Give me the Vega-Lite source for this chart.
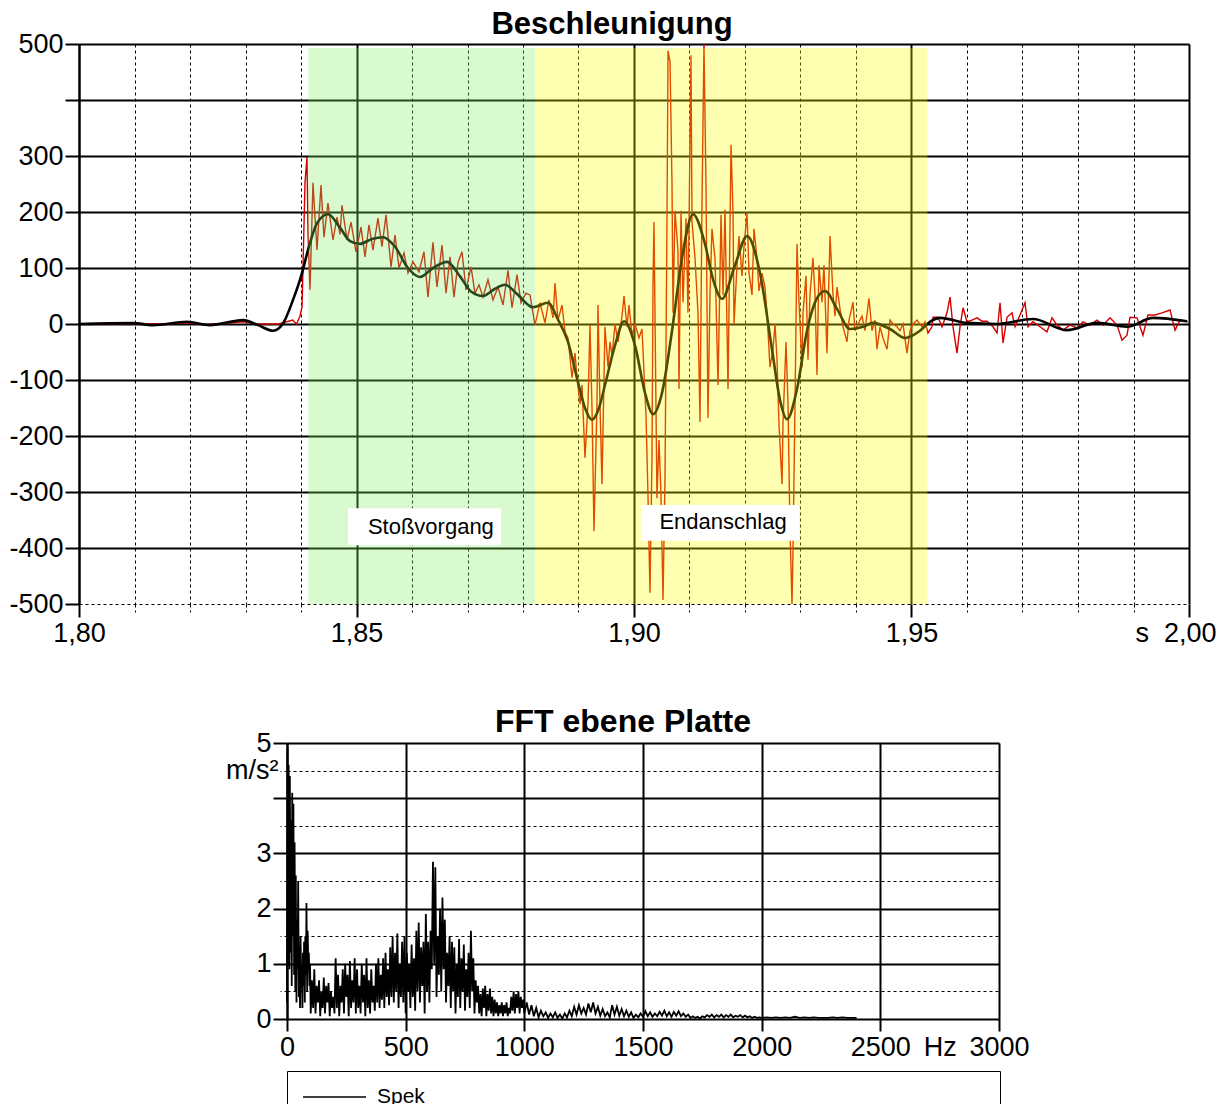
{
"$schema": "https://vega.github.io/schema/vega-lite/v6.json",
"padding": {"left": 8, "top": 9, "right": 5, "bottom": 5},
"background": "white",
"spacing": 60,
"config": {
  "font": "Liberation Sans",
  "view": {"stroke": null},
  "axis": {"labelFont": "Liberation Sans", "labelFontSize": 27, "labelColor": "black", "tickColor": "black", "domainColor": "black", "gridColor": "black", "gridOpacity": 1, "labelOverlap": false, "labelFlush": false, "labelBound": false, "title": null},
  "title": {"font": "Liberation Sans", "fontSize": 31, "fontWeight": "bold", "color": "black"}
},
"datasets": {
  "raw": [
    {"t":1.8,"a":0},{"t":1.805,"a":0},{"t":1.81,"a":1},{"t":1.815,"a":0},{"t":1.819,"a":2},{"t":1.823,"a":-1},{"t":1.826,"a":1},{"t":1.8295,"a":4},{"t":1.832,"a":0},{"t":1.836,"a":0},{"t":1.8385,"a":7},{"t":1.8392,"a":0},{"t":1.8398,"a":14},{"t":1.84018,"a":30},{"t":1.84036,"a":102},{"t":1.84072,"a":252},{"t":1.84108,"a":298},{"t":1.84126,"a":162},{"t":1.84162,"a":61},{"t":1.84216,"a":252},{"t":1.84288,"a":132},{"t":1.8436,"a":248},{"t":1.84414,"a":155},{"t":1.84486,"a":216},{"t":1.84577,"a":150},{"t":1.84649,"a":191},{"t":1.84703,"a":160},{"t":1.84739,"a":212},{"t":1.84829,"a":150},{"t":1.84901,"a":182},{"t":1.84991,"a":129},{"t":1.85081,"a":173},{"t":1.85153,"a":120},{"t":1.85225,"a":177},{"t":1.85297,"a":132},{"t":1.85387,"a":189},{"t":1.85459,"a":138},{"t":1.85532,"a":195},{"t":1.85622,"a":102},{"t":1.85694,"a":159},{"t":1.85766,"a":100},{"t":1.85856,"a":127},{"t":1.85928,"a":91},{"t":1.86018,"a":111},{"t":1.86126,"a":93},{"t":1.86216,"a":129},{"t":1.86288,"a":48},{"t":1.86378,"a":146},{"t":1.8645,"a":66},{"t":1.86541,"a":141},{"t":1.86613,"a":55},{"t":1.86685,"a":120},{"t":1.86757,"a":48},{"t":1.86829,"a":110},{"t":1.86901,"a":129},{"t":1.86973,"a":61},{"t":1.87063,"a":102},{"t":1.87135,"a":55},{"t":1.87207,"a":70},{"t":1.87279,"a":48},{"t":1.87369,"a":79},{"t":1.87459,"a":43},{"t":1.8755,"a":66},{"t":1.8764,"a":34},{"t":1.8773,"a":96},{"t":1.87802,"a":29},{"t":1.87892,"a":88},{"t":1.87964,"a":38},{"t":1.88054,"a":55},{"t":1.88126,"a":52},{"t":1.88216,"a":-2},{"t":1.88306,"a":38},{"t":1.88396,"a":2},{"t":1.88468,"a":43},{"t":1.88541,"a":11},{"t":1.88577,"a":73},{"t":1.88631,"a":7},{"t":1.88703,"a":34},{"t":1.88757,"a":-14},{"t":1.88811,"a":-25},{"t":1.88883,"a":-96},{"t":1.88937,"a":-52},{"t":1.88973,"a":-96},{"t":1.89027,"a":-143},{"t":1.89063,"a":-109},{"t":1.89117,"a":-239},{"t":1.89171,"a":-143},{"t":1.89207,"a":-2},{"t":1.89243,"a":-148},{"t":1.89279,"a":-370},{"t":1.89333,"a":-143},{"t":1.89351,"a":34},{"t":1.89387,"a":-143},{"t":1.89423,"a":-286},{"t":1.89477,"a":-5},{"t":1.89532,"a":-77},{"t":1.89568,"a":-32},{"t":1.89604,"a":-57},{"t":1.89658,"a":0},{"t":1.89712,"a":-32},{"t":1.89784,"a":14},{"t":1.8982,"a":50},{"t":1.89874,"a":-5},{"t":1.8991,"a":34},{"t":1.89964,"a":-21},{"t":1.90018,"a":0},{"t":1.9009,"a":-25},{"t":1.90144,"a":-9},{"t":1.90216,"a":-162},{"t":1.90252,"a":-305},{"t":1.90288,"a":-480},{"t":1.90324,"a":-239},{"t":1.90342,"a":66},{"t":1.9036,"a":182},{"t":1.90414,"a":-311},{"t":1.9045,"a":-207},{"t":1.90486,"a":-305},{"t":1.90523,"a":-493},{"t":1.90559,"a":-271},{"t":1.90595,"a":195},{"t":1.90613,"a":488},{"t":1.90649,"a":468},{"t":1.90685,"a":248},{"t":1.90703,"a":20},{"t":1.90739,"a":202},{"t":1.90793,"a":130},{"t":1.90811,"a":-116},{"t":1.90847,"a":202},{"t":1.90883,"a":39},{"t":1.90937,"a":189},{"t":1.90973,"a":20},{"t":1.91027,"a":480},{"t":1.91045,"a":182},{"t":1.91099,"a":118},{"t":1.91153,"a":20},{"t":1.91189,"a":-175},{"t":1.91225,"a":214},{"t":1.91261,"a":500},{"t":1.91297,"a":248},{"t":1.91333,"a":-168},{"t":1.91369,"a":52},{"t":1.91405,"a":170},{"t":1.91459,"a":118},{"t":1.91514,"a":-109},{"t":1.91568,"a":195},{"t":1.91604,"a":52},{"t":1.9164,"a":204},{"t":1.91694,"a":-116},{"t":1.91748,"a":320},{"t":1.91784,"a":200},{"t":1.91802,"a":0},{"t":1.91856,"a":105},{"t":1.91892,"a":157},{"t":1.91946,"a":86},{"t":1.91982,"a":138},{"t":1.92036,"a":198},{"t":1.92072,"a":91},{"t":1.92126,"a":52},{"t":1.92162,"a":170},{"t":1.92216,"a":118},{"t":1.92252,"a":59},{"t":1.92306,"a":91},{"t":1.9236,"a":66},{"t":1.92396,"a":20},{"t":1.9245,"a":-77},{"t":1.92504,"a":-45},{"t":1.92541,"a":0},{"t":1.92577,"a":-64},{"t":1.92613,"a":-180},{"t":1.92667,"a":-286},{"t":1.92685,"a":-175},{"t":1.92739,"a":-32},{"t":1.92775,"a":-143},{"t":1.92811,"a":-370},{"t":1.92847,"a":-500},{"t":1.92865,"a":-402},{"t":1.92901,"a":-143},{"t":1.92937,"a":143},{"t":1.92973,"a":39},{"t":1.93027,"a":-77},{"t":1.93045,"a":20},{"t":1.93099,"a":86},{"t":1.93135,"a":-64},{"t":1.93171,"a":52},{"t":1.93225,"a":118},{"t":1.93261,"a":52},{"t":1.93297,"a":-91},{"t":1.93333,"a":105},{"t":1.93387,"a":39},{"t":1.93423,"a":105},{"t":1.93477,"a":-52},{"t":1.93532,"a":157},{"t":1.93586,"a":52},{"t":1.93622,"a":14},{"t":1.93658,"a":66},{"t":1.93712,"a":27},{"t":1.93766,"a":-5},{"t":1.93838,"a":-32},{"t":1.93874,"a":7},{"t":1.93946,"a":39},{"t":1.93982,"a":-12},{"t":1.94036,"a":0},{"t":1.94108,"a":14},{"t":1.94162,"a":-12},{"t":1.94234,"a":46},{"t":1.94288,"a":-12},{"t":1.94342,"a":7},{"t":1.94378,"a":-45},{"t":1.94432,"a":-5},{"t":1.94486,"a":-25},{"t":1.94559,"a":-45},{"t":1.94613,"a":7},{"t":1.94667,"a":0},{"t":1.94739,"a":-5},{"t":1.94793,"a":-12},{"t":1.94847,"a":0},{"t":1.94919,"a":-52},{"t":1.94974,"a":-12},{"t":1.95027,"a":0},{"t":1.95099,"a":7},{"t":1.95189,"a":-5},{"t":1.95243,"a":4},{"t":1.95297,"a":-16},{"t":1.95369,"a":-5},{"t":1.95387,"a":12},{"t":1.95477,"a":12},{"t":1.9555,"a":-5},{"t":1.9564,"a":20},{"t":1.95694,"a":48},{"t":1.95748,"a":-5},{"t":1.9582,"a":-52},{"t":1.95874,"a":-5},{"t":1.95928,"a":29},{"t":1.96,"a":4},{"t":1.9609,"a":7},{"t":1.9618,"a":11},{"t":1.9627,"a":5},{"t":1.9636,"a":5},{"t":1.96468,"a":-5},{"t":1.96541,"a":-16},{"t":1.96595,"a":38},{"t":1.96649,"a":-34},{"t":1.96721,"a":12},{"t":1.96811,"a":20},{"t":1.96865,"a":-5},{"t":1.96955,"a":16},{"t":1.97045,"a":38},{"t":1.97099,"a":-5},{"t":1.97189,"a":4},{"t":1.97315,"a":-5},{"t":1.97441,"a":-14},{"t":1.97532,"a":11},{"t":1.97622,"a":-2},{"t":1.9773,"a":-11},{"t":1.97856,"a":-2},{"t":1.97982,"a":-7},{"t":1.9809,"a":4},{"t":1.98216,"a":-2},{"t":1.98342,"a":7},{"t":1.9845,"a":-2},{"t":1.98577,"a":11},{"t":1.98703,"a":-2},{"t":1.98793,"a":-29},{"t":1.98883,"a":-20},{"t":1.98937,"a":12},{"t":1.99063,"a":11},{"t":1.99171,"a":-20},{"t":1.99261,"a":16},{"t":1.99387,"a":16},{"t":1.99514,"a":20},{"t":1.99658,"a":25},{"t":1.99748,"a":-11},{"t":1.99838,"a":7},{"t":1.99982,"a":4}
  ],
  "smooth": [
    {"t":1.8,"a":0},{"t":1.80973,"a":1.5},{"t":1.81333,"a":-2},{"t":1.81946,"a":4},{"t":1.8236,"a":-2},{"t":1.82955,"a":7},{"t":1.83225,"a":-2},{"t":1.83495,"a":-12},{"t":1.83676,"a":1},{"t":1.83856,"a":43},{"t":1.84018,"a":91},{"t":1.84126,"a":132},{"t":1.84288,"a":180},{"t":1.84486,"a":196},{"t":1.84703,"a":172},{"t":1.84883,"a":148},{"t":1.85063,"a":143},{"t":1.85279,"a":152},{"t":1.85477,"a":155},{"t":1.85694,"a":138},{"t":1.85928,"a":100},{"t":1.86144,"a":84},{"t":1.86378,"a":100},{"t":1.86631,"a":111},{"t":1.86865,"a":85},{"t":1.87063,"a":58},{"t":1.87279,"a":50},{"t":1.87495,"a":63},{"t":1.87676,"a":70},{"t":1.8791,"a":52},{"t":1.8818,"a":30},{"t":1.8845,"a":38},{"t":1.8863,"a":8},{"t":1.88811,"a":-32},{"t":1.88991,"a":-104},{"t":1.89117,"a":-150},{"t":1.89243,"a":-171},{"t":1.89369,"a":-150},{"t":1.89477,"a":-109},{"t":1.89658,"a":-38},{"t":1.8982,"a":5},{"t":1.90018,"a":-38},{"t":1.90198,"a":-123},{"t":1.90342,"a":-161},{"t":1.90505,"a":-123},{"t":1.90685,"a":-12},{"t":1.90865,"a":118},{"t":1.91063,"a":196},{"t":1.91279,"a":143},{"t":1.91423,"a":80},{"t":1.91586,"a":45},{"t":1.9182,"a":105},{"t":1.92036,"a":157},{"t":1.9227,"a":91},{"t":1.92486,"a":-45},{"t":1.92631,"a":-136},{"t":1.92757,"a":-170},{"t":1.92937,"a":-116},{"t":1.93117,"a":-12},{"t":1.93297,"a":46},{"t":1.93441,"a":59},{"t":1.93658,"a":27},{"t":1.93892,"a":-9},{"t":1.94126,"a":-5},{"t":1.94306,"a":2},{"t":1.94613,"a":-9},{"t":1.94883,"a":-25},{"t":1.95153,"a":-12},{"t":1.95333,"a":4},{"t":1.95514,"a":11},{"t":1.96,"a":2},{"t":1.96541,"a":0},{"t":1.97189,"a":9},{"t":1.97802,"a":-11},{"t":1.98342,"a":2},{"t":1.98883,"a":-5},{"t":1.99351,"a":11},{"t":1.99964,"a":5}
  ],
  "regions": [
    {"name":"Stoßvorgang","start":1.84132,"end":1.88216,"lt":1.8634,"la":-362,"bx1":1.84847,"bx2":1.87604,"by1":-329,"by2":-395},
    {"name":"Endanschlag","start":1.88216,"end":1.95285,"lt":1.91604,"la":-354,"bx1":1.90126,"bx2":1.92973,"by1":-323,"by2":-387}
  ],
  "fft": [
    {"f":0,"v":0.3},{"f":2,"v":4.9},{"f":5,"v":1.0},{"f":7,"v":4.6},{"f":10,"v":0.9},{"f":12,"v":4.4},{"f":15,"v":1.2},{"f":17,"v":3.6},{"f":20,"v":0.6},{"f":22,"v":4.1},{"f":25,"v":1.5},{"f":27,"v":3.9},{"f":30,"v":0.8},{"f":32,"v":3.2},{"f":35,"v":0.5},{"f":37,"v":2.6},{"f":40,"v":0.3},{"f":42,"v":1.8},{"f":45,"v":0.9},{"f":47,"v":2.5},{"f":50,"v":0.4},{"f":52,"v":1.3},{"f":55,"v":0.2},{"f":57,"v":1.5},{"f":60,"v":0.6},{"f":62,"v":0.9},{"f":65,"v":0.2},{"f":67,"v":1.2},{"f":70,"v":0.6},{"f":72,"v":1.4},{"f":75,"v":0.3},{"f":77,"v":1.5},{"f":80,"v":0.8},{"f":82,"v":2.1},{"f":85,"v":0.5},{"f":87,"v":1.6},{"f":90,"v":0.9},{"f":92,"v":1.2},{"f":95,"v":0.6},{"f":97,"v":1.0},
    {"f":100,"v":0.1},{"f":105,"v":0.7},{"f":110,"v":0.2},{"f":115,"v":0.9},{"f":120,"v":0.1},{"f":125,"v":0.6},{"f":130,"v":0.3},{"f":135,"v":0.7},{"f":140,"v":0.05},{"f":145,"v":0.5},{"f":150,"v":0.2},{"f":155,"v":0.75},{"f":160,"v":0.1},{"f":165,"v":0.6},{"f":170,"v":0.3},{"f":175,"v":0.65},{"f":180,"v":0.05},{"f":185,"v":0.5},{"f":190,"v":0.2},{"f":195,"v":0.4},{"f":200,"v":0.1},
    {"f":205,"v":1.1},{"f":210,"v":0.2},{"f":215,"v":0.8},{"f":220,"v":0.05},{"f":225,"v":0.6},{"f":230,"v":0.3},{"f":235,"v":0.9},{"f":240,"v":0.1},{"f":245,"v":1.0},{"f":250,"v":0.4},{"f":255,"v":0.8},{"f":260,"v":0.05},{"f":265,"v":1.05},{"f":270,"v":0.2},{"f":275,"v":0.7},{"f":280,"v":0.3},{"f":285,"v":1.1},{"f":290,"v":0.1},{"f":295,"v":0.9},{"f":300,"v":0.2},{"f":305,"v":0.6},{"f":310,"v":0.1},{"f":315,"v":1.0},{"f":320,"v":0.3},{"f":325,"v":0.8},{"f":330,"v":0.05},{"f":335,"v":1.1},{"f":340,"v":0.2},{"f":345,"v":0.7},{"f":350,"v":0.1},{"f":355,"v":0.9},{"f":360,"v":0.3},{"f":365,"v":0.6},{"f":370,"v":0.15},{"f":375,"v":1.0},{"f":380,"v":0.3},{"f":385,"v":1.1},{"f":390,"v":0.2},{"f":395,"v":0.8},{"f":400,"v":0.35},
    {"f":405,"v":1.1},{"f":410,"v":0.2},{"f":415,"v":1.2},{"f":420,"v":0.4},{"f":425,"v":0.9},{"f":430,"v":0.25},{"f":435,"v":1.3},{"f":440,"v":0.4},{"f":445,"v":1.5},{"f":450,"v":0.3},{"f":455,"v":1.2},{"f":460,"v":0.5},{"f":465,"v":1.55},{"f":470,"v":0.2},{"f":475,"v":1.0},{"f":480,"v":0.4},{"f":485,"v":1.4},{"f":490,"v":0.3},{"f":495,"v":1.5},{"f":500,"v":0.1},{"f":505,"v":1.2},{"f":510,"v":0.5},{"f":515,"v":1.0},{"f":520,"v":0.2},{"f":525,"v":1.35},{"f":530,"v":0.4},{"f":535,"v":1.1},{"f":540,"v":0.15},{"f":545,"v":1.6},{"f":550,"v":0.5},{"f":555,"v":1.75},{"f":560,"v":0.3},{"f":565,"v":1.3},{"f":570,"v":0.6},{"f":575,"v":1.4},{"f":580,"v":0.1},{"f":585,"v":1.9},{"f":590,"v":0.5},{"f":595,"v":1.4},{"f":600,"v":0.3},
    {"f":605,"v":1.6},{"f":610,"v":0.9},{"f":615,"v":2.85},{"f":620,"v":1.0},{"f":625,"v":2.75},{"f":630,"v":0.4},{"f":635,"v":1.5},{"f":640,"v":0.8},{"f":645,"v":2.0},{"f":650,"v":0.5},{"f":655,"v":2.2},{"f":660,"v":0.9},{"f":665,"v":1.8},{"f":670,"v":0.3},{"f":675,"v":1.2},{"f":680,"v":0.6},{"f":685,"v":1.5},{"f":690,"v":0.2},{"f":695,"v":1.4},{"f":700,"v":0.5},{"f":705,"v":1.3},{"f":710,"v":0.1},{"f":715,"v":1.0},{"f":720,"v":0.4},{"f":725,"v":1.45},{"f":730,"v":0.2},{"f":735,"v":1.1},{"f":740,"v":0.5},{"f":745,"v":1.35},{"f":750,"v":0.15},{"f":755,"v":0.9},{"f":760,"v":0.4},{"f":765,"v":1.2},{"f":770,"v":0.2},{"f":775,"v":1.6},{"f":780,"v":0.5},{"f":785,"v":1.1},{"f":790,"v":0.1},{"f":795,"v":0.7},{"f":800,"v":0.3},
    {"f":805,"v":0.6},{"f":810,"v":0.1},{"f":815,"v":0.45},{"f":820,"v":0.05},{"f":825,"v":0.55},{"f":830,"v":0.2},{"f":835,"v":0.6},{"f":840,"v":0.05},{"f":845,"v":0.45},{"f":850,"v":0.15},{"f":855,"v":0.55},{"f":860,"v":0.1},{"f":865,"v":0.4},{"f":870,"v":0.05},{"f":875,"v":0.35},{"f":880,"v":0.1},{"f":885,"v":0.3},{"f":890,"v":0.05},{"f":895,"v":0.25},{"f":900,"v":0.1},{"f":905,"v":0.3},{"f":910,"v":0.05},{"f":915,"v":0.25},{"f":920,"v":0.1},{"f":925,"v":0.3},{"f":930,"v":0.05},{"f":935,"v":0.2},{"f":940,"v":0.1},{"f":945,"v":0.4},{"f":950,"v":0.15},{"f":955,"v":0.5},{"f":960,"v":0.1},{"f":965,"v":0.45},{"f":970,"v":0.2},{"f":975,"v":0.5},{"f":980,"v":0.1},{"f":985,"v":0.4},{"f":990,"v":0.2},{"f":995,"v":0.35},{"f":1000,"v":0.1},
    {"f":1010,"v":0.3},{"f":1020,"v":0.08},{"f":1030,"v":0.25},{"f":1040,"v":0.05},{"f":1050,"v":0.2},{"f":1060,"v":0.03},{"f":1070,"v":0.15},{"f":1080,"v":0.05},{"f":1090,"v":0.12},{"f":1100,"v":0.02},{"f":1110,"v":0.1},{"f":1120,"v":0.03},{"f":1130,"v":0.12},{"f":1140,"v":0.02},{"f":1150,"v":0.08},{"f":1160,"v":0.01},{"f":1170,"v":0.1},{"f":1180,"v":0.03},{"f":1190,"v":0.15},{"f":1200,"v":0.05},{"f":1210,"v":0.22},{"f":1220,"v":0.08},{"f":1230,"v":0.25},{"f":1240,"v":0.1},{"f":1250,"v":0.2},{"f":1260,"v":0.08},{"f":1270,"v":0.28},{"f":1280,"v":0.12},{"f":1290,"v":0.3},{"f":1300,"v":0.1},{"f":1310,"v":0.22},{"f":1320,"v":0.06},{"f":1330,"v":0.18},{"f":1340,"v":0.05},{"f":1350,"v":0.12},{"f":1360,"v":0.03},{"f":1370,"v":0.25},{"f":1380,"v":0.08},{"f":1390,"v":0.22},{"f":1400,"v":0.06},{"f":1410,"v":0.18},{"f":1420,"v":0.05},{"f":1430,"v":0.15},{"f":1440,"v":0.04},{"f":1450,"v":0.12},{"f":1460,"v":0.02},{"f":1470,"v":0.08},{"f":1480,"v":0.03},{"f":1490,"v":0.1},{"f":1500,"v":0.04},{"f":1510,"v":0.14},{"f":1520,"v":0.05},{"f":1530,"v":0.12},{"f":1540,"v":0.04},{"f":1550,"v":0.1},{"f":1560,"v":0.05},{"f":1570,"v":0.13},{"f":1580,"v":0.06},{"f":1590,"v":0.15},{"f":1600,"v":0.05},{"f":1610,"v":0.12},{"f":1620,"v":0.04},{"f":1630,"v":0.13},{"f":1640,"v":0.06},{"f":1650,"v":0.14},{"f":1660,"v":0.05},{"f":1670,"v":0.1},{"f":1680,"v":0.04},{"f":1690,"v":0.08},{"f":1700,"v":0.02},{"f":1710,"v":0.05},{"f":1720,"v":0.02},{"f":1730,"v":0.04},{"f":1740,"v":0.01},{"f":1750,"v":0.05},{"f":1760,"v":0.03},{"f":1770,"v":0.07},{"f":1780,"v":0.04},{"f":1790,"v":0.08},{"f":1800,"v":0.03},{"f":1810,"v":0.07},{"f":1820,"v":0.04},{"f":1830,"v":0.08},{"f":1840,"v":0.03},{"f":1850,"v":0.07},{"f":1860,"v":0.04},{"f":1870,"v":0.08},{"f":1880,"v":0.03},{"f":1890,"v":0.06},{"f":1900,"v":0.04},{"f":1910,"v":0.07},{"f":1920,"v":0.03},{"f":1930,"v":0.06},{"f":1940,"v":0.03},{"f":1950,"v":0.05},{"f":1960,"v":0.02},{"f":1970,"v":0.04},{"f":1980,"v":0.02},{"f":1990,"v":0.03},{"f":2000,"v":0.02},{"f":2020,"v":0.03},{"f":2040,"v":0.02},{"f":2060,"v":0.03},{"f":2080,"v":0.02},{"f":2100,"v":0.03},{"f":2120,"v":0.02},{"f":2140,"v":0.04},{"f":2160,"v":0.02},{"f":2180,"v":0.03},{"f":2200,"v":0.02},{"f":2220,"v":0.03},{"f":2240,"v":0.02},{"f":2260,"v":0.02},{"f":2280,"v":0.02},{"f":2300,"v":0.03},{"f":2320,"v":0.02},{"f":2340,"v":0.03},{"f":2360,"v":0.02},{"f":2380,"v":0.02},{"f":2400,"v":0.02}
  ]
},
"vconcat": [
  {
    "width": 1110, "height": 560,
    "title": {"text": "Beschleunigung", "offset": -11, "dx": -22},
    "layer": [
      {
        "data": {"name": "raw"},
        "mark": {"type": "line", "stroke": "#d40000", "strokeWidth": 1.4, "clip": true},
        "encoding": {
          "x": {"field": "t", "type": "quantitative", "scale": {"domain": [1.8, 2.0], "nice": false, "zero": false},
            "axis": {
              "values": [1.8,1.81,1.82,1.83,1.84,1.85,1.86,1.87,1.88,1.89,1.9,1.91,1.92,1.93,1.94,1.95,1.96,1.97,1.98,1.99,2.0],
              "domain": false, "grid": true,
              "gridDash": {"condition": {"test": "abs(datum.value*20-round(datum.value*20))<0.001", "value": []}, "value": [3,3]},
              "gridWidth": {"condition": {"test": "abs(datum.value*20-round(datum.value*20))<0.001", "value": 2}, "value": 1},
              "tickDash": {"condition": {"test": "abs(datum.value*20-round(datum.value*20))<0.001", "value": []}, "value": [3,3]},
              "tickSize": {"condition": {"test": "abs(datum.value*20-round(datum.value*20))<0.001", "value": 13}, "value": 8},
              "tickWidth": {"condition": {"test": "abs(datum.value*20-round(datum.value*20))<0.001", "value": 2}, "value": 1},
              "labelExpr": "abs(datum.value*20-round(datum.value*20))<0.001 ? (datum.value > 1.999 ? 's\u00a0\u00a02,00' : replace(format(datum.value,'.2f'),'.',',')) : ''",
              "labelAlign": {"condition": {"test": "datum.value > 1.999", "value": "right"}, "value": "center"},
              "labelOffset": {"condition": {"test": "datum.value > 1.999", "value": 27}, "value": 0},
              "labelPadding": 3
            }},
          "y": {"field": "a", "type": "quantitative", "scale": {"domain": [-500, 500], "nice": false},
            "axis": {
              "values": [-500,-450,-400,-350,-300,-250,-200,-150,-100,-50,0,50,100,150,200,250,300,350,400,450,500],
              "domain": true, "domainWidth": 2, "grid": true,
              "gridDash": {"condition": {"test": "datum.value % 100 == 0 && datum.value != -500", "value": []}, "value": [3,3]},
              "gridWidth": {"condition": {"test": "datum.value % 100 == 0 && datum.value != -500", "value": 2}, "value": 1},
              "tickDash": {"condition": {"test": "datum.value % 100 == 0", "value": []}, "value": [3,3]},
              "tickSize": {"condition": {"test": "datum.value % 100 == 0", "value": 14}, "value": 7},
              "tickWidth": {"condition": {"test": "datum.value % 100 == 0", "value": 2}, "value": 1},
              "labelExpr": "datum.value == 450 ? 'm/s²' : ((datum.value % 100 == 0 && datum.value != 400) ? '' + datum.value : '')",
              "labelPadding": 2
            }}
        }
      },
      {
        "data": {"name": "smooth"},
        "mark": {"type": "line", "stroke": "black", "strokeWidth": 2.6, "interpolate": "monotone", "clip": true},
        "encoding": {
          "x": {"field": "t", "type": "quantitative"},
          "y": {"field": "a", "type": "quantitative"}
        }
      },
      {
        "data": {"name": "regions"},
        "mark": {"type": "rect", "opacity": 0.3},
        "encoding": {
          "x": {"field": "start", "type": "quantitative"},
          "x2": {"field": "end"},
          "y": {"datum": 493, "type": "quantitative"},
          "y2": {"datum": -500},
          "fill": {"field": "name", "type": "nominal", "scale": {"domain": ["Stoßvorgang", "Endanschlag"], "range": ["#80f060", "#ffff00"]}, "legend": null}
        }
      },
      {
        "data": {"name": "regions"},
        "mark": {"type": "rect", "fill": "white"},
        "encoding": {
          "x": {"field": "bx1", "type": "quantitative"},
          "x2": {"field": "bx2"},
          "y": {"field": "by1", "type": "quantitative"},
          "y2": {"field": "by2"}
        }
      },
      {
        "data": {"name": "regions"},
        "mark": {"type": "text", "fontSize": 22, "font": "Liberation Sans", "color": "black", "align": "center", "baseline": "middle"},
        "encoding": {
          "x": {"field": "lt", "type": "quantitative"},
          "y": {"field": "la", "type": "quantitative"},
          "text": {"field": "name"}
        }
      }
    ]
  },
  {
    "spacing": 0,
    "resolve": {"legend": {"stroke": "independent"}},
    "hconcat": [
      {
        "width": 146, "height": 276,
        "view": {"fill": "white", "stroke": null},
        "data": {"values": [{}]},
        "mark": {"type": "point", "opacity": 0},
        "encoding": {}
      },
      {
        "width": 712, "height": 276,
        "title": {"text": "FFT ebene Platte", "fontSize": 32, "offset": -10, "dx": -20},
        "data": {"name": "fft"},
        "mark": {"type": "line", "strokeWidth": 1.8},
        "encoding": {
          "x": {"field": "f", "type": "quantitative", "scale": {"domain": [0, 3000], "nice": false},
            "axis": {
              "values": [0, 500, 1000, 1500, 2000, 2500, 2750, 3000],
              "domain": false, "grid": true, "gridWidth": 2,
              "gridOpacity": {"condition": {"test": "datum.value == 2750", "value": 0}, "value": 1},
              "tickOpacity": {"condition": {"test": "datum.value == 2750", "value": 0}, "value": 1},
              "tickSize": 12, "tickWidth": 2,
              "labelExpr": "datum.value == 2750 ? 'Hz' : '' + datum.value",
              "labelPadding": 3
            }},
          "y": {"field": "v", "type": "quantitative", "scale": {"domain": [0, 5], "nice": false},
            "axis": {
              "values": [0, 0.5, 1, 1.5, 2, 2.5, 3, 3.5, 4, 4.5, 5],
              "domain": true, "domainWidth": 2, "grid": true,
              "gridDash": {"condition": {"test": "datum.value == round(datum.value)", "value": []}, "value": [3,3]},
              "gridWidth": {"condition": {"test": "datum.value == round(datum.value)", "value": 2}, "value": 1},
              "tickDash": {"condition": {"test": "datum.value == round(datum.value)", "value": []}, "value": [3,3]},
              "tickSize": {"condition": {"test": "datum.value == round(datum.value)", "value": 14}, "value": 7},
              "tickWidth": {"condition": {"test": "datum.value == round(datum.value)", "value": 2}, "value": 1},
              "labelExpr": "datum.value == 4.5 ? 'm/s²' : ((datum.value == round(datum.value) && datum.value != 4) ? '' + datum.value : '')",
              "labelPadding": 2
            }},
          "stroke": {"datum": "Spek", "type": "nominal", "scale": {"range": ["black"]},
            "legend": {
              "title": null,
              "orient": "bottom", "symbolType": "stroke", "symbolSize": 3969,
              "symbolStrokeWidth": 1.5, "symbolStrokeColor": "black",
              "clipHeight": 22,
              "labelFontSize": 21, "labelFont": "Liberation Sans", "labelColor": "black",
              "labelOffset": 10, "labelLimit": 1000,
              "labelExpr": "pad(datum.label, 100, '\u00a0') + '\u200b'",
              "strokeColor": "black", "fillColor": "white", "padding": 15, "offset": 11
            }}
        }
      }
    ]
  }
]
}
